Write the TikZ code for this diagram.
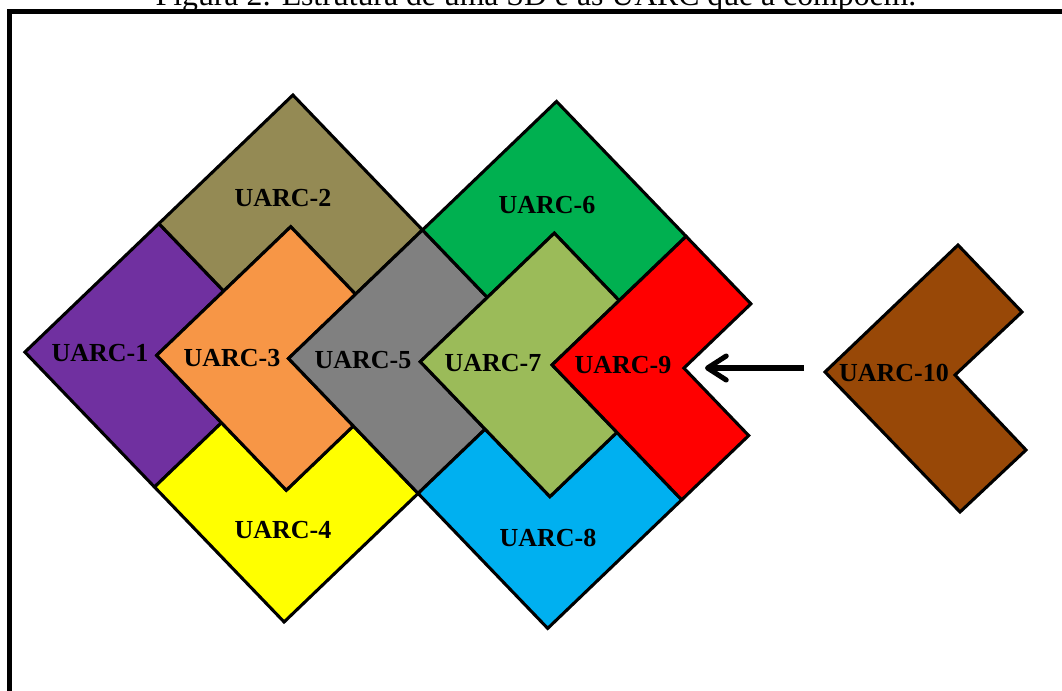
\documentclass[tikz,border=0pt]{standalone}
\usepackage{fontspec}
\setmainfont{Liberation Serif}
\usepackage{xcolor}
\usepackage{tikz}
\usetikzlibrary{arrows.meta}

\definecolor{uarcpurple}{HTML}{7030A0}
\definecolor{uarcolive}{HTML}{948A54}
\definecolor{uarcorange}{HTML}{F79646}
\definecolor{uarcyellow}{HTML}{FFFF00}
\definecolor{uarcgray}{HTML}{808080}
\definecolor{uarcgreen}{HTML}{00B050}
\definecolor{uarclime}{HTML}{9BBB59}
\definecolor{uarcblue}{HTML}{00B0F0}
\definecolor{uarcred}{HTML}{FF0000}
\definecolor{uarcbrown}{HTML}{984807}

\begin{document}
\begin{tikzpicture}[x=0.75pt,y=-0.75pt,
  piece/.style={draw=black, line width=2.3pt, line join=miter},
  lbl/.style={font=\bfseries\fontsize{19.5}{20}\selectfont, inner sep=0pt}]
  \clip (0,0) rectangle (1062,691);
  \node (caption) [anchor=base, font=\fontsize{23.8}{24}\selectfont] at (536,6) {Figura 2: Estrutura de uma SD e as UARC que a compõem.};
  \draw[line width=3.8pt] (9.5,720) -- (9.5,11.5) -- (1080,11.5);

  % pieces on the tilted square grid
  \begin{scope}[shift={(24.9,352.1)}, x={(50.25pt,48.2pt)}, y={(48.6pt,-50.6pt)}]
    \draw[piece, fill=uarcpurple] (0,0) -- (2,0) -- (2,1) -- (1,1) -- (1,2) -- (0,2) -- cycle;
    \draw[piece, fill=uarcolive] (2,0) -- (4,0) -- (4,2) -- (3,2) -- (3,1) -- (2,1) -- cycle;
    \draw[piece, fill=uarcyellow] (0,2) -- (1,2) -- (1,3) -- (2,3) -- (2,4) -- (0,4) -- cycle;
    \draw[piece, fill=uarcorange, shift={(1,1)}] (0,0) -- (2,0) -- (2,1) -- (1,1) -- (1,2) -- (0,2) -- cycle;
    \draw[piece, fill=uarcgray, shift={(2,2)}] (0,0) -- (2,0) -- (2,1) -- (1,1) -- (1,2) -- (0,2) -- cycle;
    \draw[piece, fill=uarcgreen] (4,2) -- (6,2) -- (6,4) -- (5,4) -- (5,3) -- (4,3) -- cycle;
    \draw[piece, fill=uarcblue] (2,4) -- (3,4) -- (3,5) -- (4,5) -- (4,6) -- (2,6) -- cycle;
    \draw[piece, fill=uarclime, shift={(3,3)}] (0,0) -- (2,0) -- (2,1) -- (1,1) -- (1,2) -- (0,2) -- cycle;
    \draw[piece, fill=uarcred, shift={(4,4)}] (0,0) -- (2,0) -- (2,1) -- (1,1) -- (1,2) -- (0,2) -- cycle;
  \end{scope}
  % the loose piece
  \draw[piece, fill=uarcbrown] (825,372) -- (958,245) -- (1022,312) -- (955,375) -- (1026,450) -- (960,512) -- cycle;

  \node (u1) [lbl] at (100,353) {UARC-1};
  \node (u2) [lbl] at (283,198) {UARC-2};
  \node (u3) [lbl] at (232,358) {UARC-3};
  \node (u4) [lbl] at (283,530) {UARC-4};
  \node (u5) [lbl] at (363,360) {UARC-5};
  \node (u6) [lbl] at (547,205) {UARC-6};
  \node (u7) [lbl] at (493,363) {UARC-7};
  \node (u8) [lbl] at (548,538) {UARC-8};
  \node (u9) [lbl] at (623,365) {UARC-9};
  \node (u10) [lbl] at (894,373) {UARC-10};

  \coordinate (arrtail) at (804,368);
  \coordinate (arrtip) at (705,368);
  \draw[line width=3.8pt, -{Straight Barb[length=14pt, width=18pt, round]}] (arrtail) -- (arrtip);
\end{tikzpicture}
\end{document}
